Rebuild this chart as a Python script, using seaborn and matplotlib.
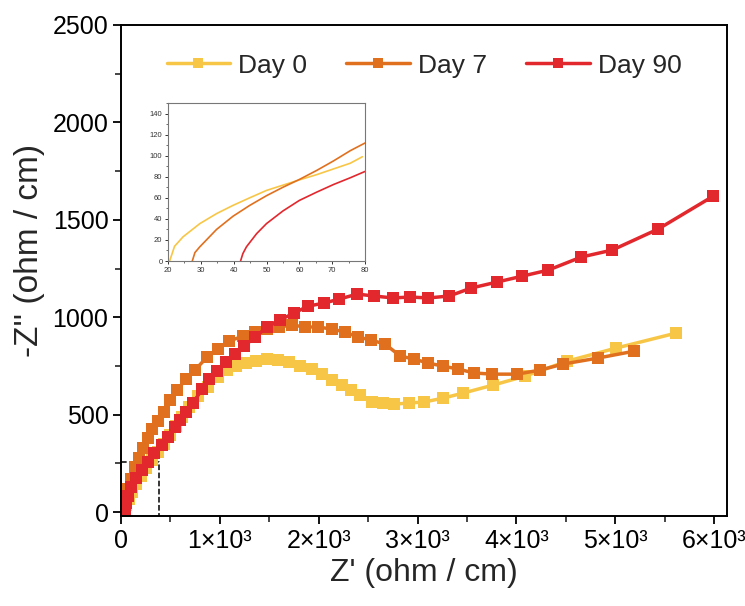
import numpy as np
import pandas as pd
import matplotlib
matplotlib.use("Agg")
import matplotlib.pyplot as plt
from matplotlib.ticker import MultipleLocator, FixedLocator, FixedFormatter
import seaborn as sns

# ---------------- data ----------------
day0_x = [20, 50, 81, 111, 152, 202, 253, 314, 374, 435, 496, 557, 617, 688, 779, 881,
          982, 1073, 1164, 1265, 1366, 1478, 1589, 1700, 1812, 1928, 2034, 2136, 2237,
          2328, 2419, 2540, 2652, 2763, 2915, 3067, 3259, 3462, 3765, 4089, 4514, 5010, 5617]
day0_y = [0, 36, 67, 103, 144, 185, 226, 267, 308, 349, 395, 441, 488, 539, 595, 642,
          693, 729, 749, 765, 775, 785, 780, 770, 749, 734, 708, 678, 652,
          626, 601, 565, 560, 554, 560, 565, 585, 611, 652, 698, 775, 842, 919]

day7_x = [27, 40, 71, 101, 142, 182, 223, 273, 314, 374, 435, 496, 567, 658, 749, 870,
          982, 1093, 1235, 1356, 1478, 1599, 1731, 1862, 1994, 2136, 2267, 2399, 2530,
          2672, 2824, 2966, 3107, 3259, 3411, 3573, 3755, 4008, 4241, 4474, 4828, 5192]
day7_y = [0, 70, 120, 170, 230, 280, 330, 380, 426, 467, 513, 575, 626, 683, 729, 796,
          837, 878, 903, 924, 939, 950, 960, 950, 950, 939, 924, 898, 883,
          862, 801, 785, 765, 749, 734, 714, 708, 708, 729, 760, 791, 826]

day90_x = [42, 55, 75, 101, 152, 213, 273, 334, 415, 476, 547, 597, 658, 729, 820, 891,
           972, 1063, 1154, 1245, 1356, 1478, 1609, 1751, 1893, 2055, 2206, 2389, 2561,
           2753, 2925, 3107, 3320, 3543, 3806, 4059, 4322, 4656, 4970, 5435, 5992]
day90_y = [0, 45, 85, 128, 174, 216, 257, 303, 344, 385, 436, 472, 513, 560, 631, 683,
           724, 770, 811, 852, 898, 950, 986, 1022, 1057, 1073, 1093, 1119, 1109,
           1099, 1104, 1099, 1109, 1150, 1181, 1211, 1242, 1309, 1345, 1453, 1622]

# inset (high-frequency region)
in0_x = [20.5, 22, 24.6, 29.7, 34.8, 39.8, 44.9, 50, 55, 60, 65.3, 70.4, 75.5, 79.2]
in0_y = [0, 14, 23, 35.5, 45, 52.8, 60, 67, 72, 77, 82, 87.4, 92.8, 99]
in7_x = [27.4, 28.2, 29.7, 34.8, 39.8, 44.9, 50, 55, 60, 65.3, 70.4, 75.5, 80]
in7_y = [0, 8, 13.5, 30, 42.5, 52.8, 62, 70, 77.4, 86, 95, 104.7, 112]
in90_x = [42.1, 42.8, 43.9, 47, 50, 55, 60, 65.3, 70.4, 75.5, 80]
in90_y = [0, 7, 13.5, 26, 35.5, 47.5, 57.5, 65.4, 72.6, 79, 85]

labels = ["Day 0", "Day 7", "Day 90"]
colors = ["#F8C646", "#E1701E", "#E2272D"]
xtick_vals = [0, 1000, 2000, 3000, 4000, 5000, 6000]
xtick_labels = ["0", "1×10³", "2×10³", "3×10³", "4×10³", "5×10³", "6×10³"]

main = pd.concat([
    pd.DataFrame({"x": day0_x, "y": day0_y, "s": labels[0]}),
    pd.DataFrame({"x": day7_x, "y": day7_y, "s": labels[1]}),
    pd.DataFrame({"x": day90_x, "y": day90_y, "s": labels[2]}),
], ignore_index=True)
inset = pd.concat([
    pd.DataFrame({"x": in0_x, "y": in0_y, "s": labels[0]}),
    pd.DataFrame({"x": in7_x, "y": in7_y, "s": labels[1]}),
    pd.DataFrame({"x": in90_x, "y": in90_y, "s": labels[2]}),
], ignore_index=True)

# ---------------- style ----------------
sns.set_theme(style="ticks")
plt.rcParams["font.family"] = ["Liberation Sans", "DejaVu Sans"]

fig = plt.figure(figsize=(7.45, 6.06), dpi=100)
ax = fig.add_axes([121 / 745, (606 - 516) / 606, (727 - 121) / 745, (516 - 25) / 606])

palette = dict(zip(labels, colors))
sns.lineplot(data=main, x="x", y="y", hue="s", palette=palette, sort=False,
             estimator=None, marker="s", markersize=9, markeredgewidth=0,
             linewidth=2.5, ax=ax)

ax.set_xlim(0, 6130)
ax.set_ylim(-20, 2500)
ax.yaxis.set_major_locator(MultipleLocator(500))
ax.yaxis.set_minor_locator(MultipleLocator(250))
ax.xaxis.set_major_locator(FixedLocator(xtick_vals))
ax.xaxis.set_major_formatter(FixedFormatter(xtick_labels))
ax.xaxis.set_minor_locator(MultipleLocator(500))
ax.tick_params(which="major", direction="out", length=6, width=1.3, labelsize=18,
               colors="black", pad=3)
ax.tick_params(which="minor", direction="out", length=4, width=1.2)
for sp in ax.spines.values():
    sp.set_linewidth(1.4)
    sp.set_color("black")
ax.set_xlabel("Z' (ohm / cm)", fontsize=23, labelpad=4)
ax.set_ylabel("-Z'' (ohm / cm)", fontsize=24, labelpad=4)
ax.yaxis.set_label_coords(-0.125, 0.54)

# dashed rectangle marking the zoomed region
ax.plot([0, 385, 385], [255, 255, -20], ls="--", color="black", lw=1.1, zorder=1)

leg = ax.legend(loc="upper center", bbox_to_anchor=(0.5, 0.99), ncol=3,
                frameon=False, fontsize=19, handlelength=2.4, columnspacing=1.5,
                handletextpad=0.3, markerscale=0.85)

# ---------------- inset ----------------
iax = fig.add_axes([168 / 745, (606 - 261) / 606, 197 / 745, 158 / 606])
sns.lineplot(data=inset, x="x", y="y", hue="s", palette=palette, sort=False,
             estimator=None, linewidth=1.2, legend=False, ax=iax)
iax.set_xlim(20, 80)
iax.set_ylim(0, 150)
iax.xaxis.set_major_locator(MultipleLocator(10))
iax.xaxis.set_minor_locator(MultipleLocator(5))
iax.yaxis.set_major_locator(FixedLocator([0, 20, 40, 60, 80, 100, 120, 140]))
iax.yaxis.set_minor_locator(MultipleLocator(10))
iax.tick_params(which="major", direction="out", length=2.5, width=0.7, labelsize=5.5,
                colors="#333333", pad=1.5)
iax.tick_params(which="minor", direction="out", length=1.5, width=0.6, colors="#555555")
for sp in iax.spines.values():
    sp.set_linewidth(0.8)
    sp.set_color("#777777")
iax.set_xlabel("")
iax.set_ylabel("")

fig.savefig("out.png", dpi=100)
